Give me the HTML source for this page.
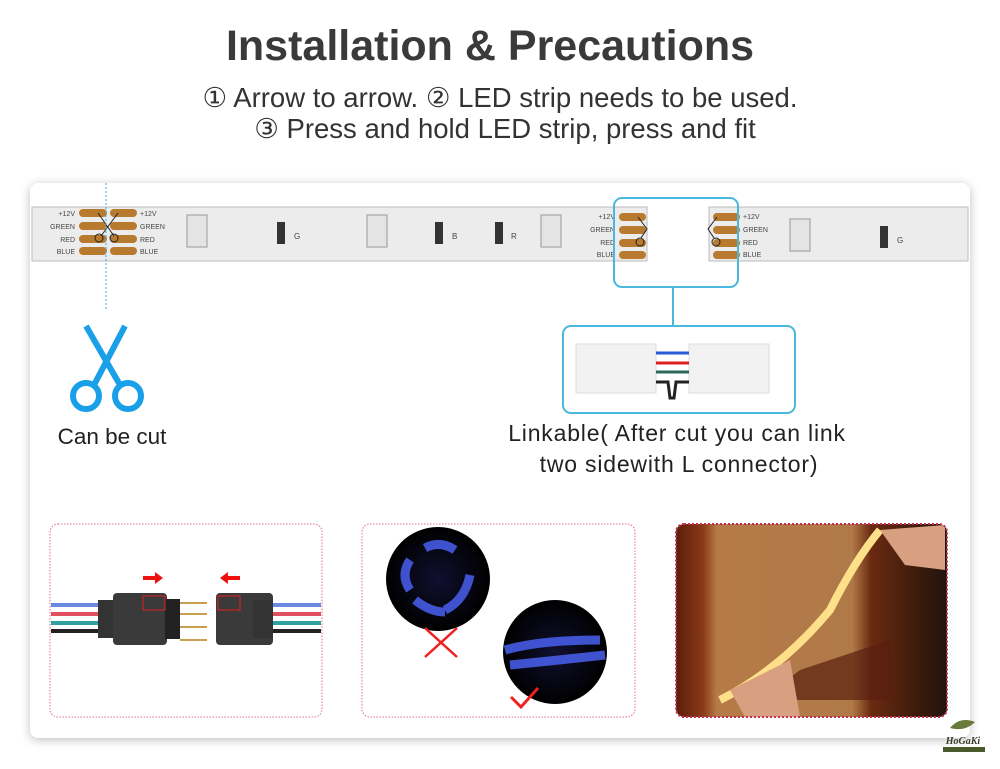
<!DOCTYPE html>
<html><head><meta charset="utf-8"><style>
html,body{margin:0;padding:0;background:#fff;width:1000px;height:769px;overflow:hidden;font-family:"Liberation Sans",sans-serif}
.t{position:absolute;left:0;width:1000px;text-align:center;color:#333}
.card{position:absolute;left:30px;top:183px;width:940px;height:555px;background:#fff;border-radius:8px;box-shadow:0 2px 10px rgba(0,0,0,.25)}
svg{position:absolute;left:0;top:0}
</style></head><body>
<div class="t" style="top:22px;font-size:43px;font-weight:bold;color:#3a3a3a;left:-10px">Installation &amp; Precautions</div>
<div class="t" style="top:82px;font-size:27.5px;color:#333">① Arrow to arrow. ② LED strip needs to be used.</div>
<div class="t" style="top:113px;font-size:27.5px;color:#333;left:5px">③ Press and hold LED strip, press and fit</div>
<div class="card"></div>
<svg width="1000" height="769" viewBox="0 0 1000 769" font-family="Liberation Sans, sans-serif">
<defs>
<linearGradient id="wood" x1="0" y1="0" x2="1" y2="0"><stop offset="0" stop-color="#5a1e0c"/><stop offset=".1" stop-color="#8a3a18"/><stop offset=".15" stop-color="#b57a48"/><stop offset=".65" stop-color="#b07a48"/><stop offset=".72" stop-color="#6a2a10"/><stop offset=".9" stop-color="#3a1a0c"/><stop offset="1" stop-color="#221410"/></linearGradient>
<radialGradient id="dk"><stop offset="0" stop-color="#101030"/><stop offset="1" stop-color="#000"/></radialGradient>
</defs>
<rect x="32" y="207" width="615" height="54" fill="#ececec" stroke="#bbb"/>
<rect x="709" y="207" width="259" height="54" fill="#ececec" stroke="#bbb"/>
<g font-size="7" fill="#444">
<text x="75" y="216" text-anchor="end">+12V</text><text x="75" y="229" text-anchor="end">GREEN</text><text x="75" y="242" text-anchor="end">RED</text><text x="75" y="254" text-anchor="end">BLUE</text>
<text x="140" y="216">+12V</text><text x="140" y="229">GREEN</text><text x="140" y="242">RED</text><text x="140" y="254">BLUE</text>
<text x="615" y="219" text-anchor="end">+12V</text><text x="615" y="232" text-anchor="end">GREEN</text><text x="615" y="245" text-anchor="end">RED</text><text x="615" y="257" text-anchor="end">BLUE</text>
<text x="743" y="219">+12V</text><text x="743" y="232">GREEN</text><text x="743" y="245">RED</text><text x="743" y="257">BLUE</text>
<text x="294" y="239" font-size="8">G</text><text x="452" y="239" font-size="8">B</text><text x="511" y="239" font-size="8">R</text><text x="897" y="243" font-size="8">G</text>
</g>
<g fill="#b87a2e">
<rect x="79" y="209" width="28" height="8" rx="4"/><rect x="79" y="222" width="28" height="8" rx="4"/><rect x="79" y="235" width="28" height="8" rx="4"/><rect x="79" y="247" width="28" height="8" rx="4"/>
<rect x="110" y="209" width="27" height="8" rx="4"/><rect x="110" y="222" width="27" height="8" rx="4"/><rect x="110" y="235" width="27" height="8" rx="4"/><rect x="110" y="247" width="27" height="8" rx="4"/>
<rect x="619" y="213" width="27" height="8" rx="4"/><rect x="619" y="226" width="27" height="8" rx="4"/><rect x="619" y="239" width="27" height="8" rx="4"/><rect x="619" y="251" width="27" height="8" rx="4"/>
<rect x="713" y="213" width="27" height="8" rx="4"/><rect x="713" y="226" width="27" height="8" rx="4"/><rect x="713" y="239" width="27" height="8" rx="4"/><rect x="713" y="251" width="27" height="8" rx="4"/>
</g>
<g stroke="#222" fill="none" stroke-width="1"><path d="M98 213 L114 236 M118 213 L101 236"/><circle cx="99" cy="238" r="4"/><circle cx="114" cy="238" r="4"/><circle cx="640" cy="242" r="4"/><circle cx="716" cy="242" r="4"/><path d="M638 217 L647 229 L641 238 M717 217 L708 229 L714 238"/></g>
<g fill="#e4e4e4" stroke="#999" stroke-width="1">
<rect x="187" y="215" width="20" height="32"/><rect x="367" y="215" width="20" height="32"/><rect x="541" y="215" width="20" height="32"/><rect x="790" y="219" width="20" height="32"/>
</g>
<g fill="#333"><rect x="277" y="222" width="8" height="22"/><rect x="435" y="222" width="8" height="22"/><rect x="495" y="222" width="8" height="22"/><rect x="880" y="226" width="8" height="22"/></g>
<line x1="106" y1="183" x2="106" y2="310" stroke="#5ab4e0" stroke-width="1.2" stroke-dasharray="2,2"/>
<rect x="614" y="198" width="124" height="89" rx="8" fill="none" stroke="#4ab8dc" stroke-width="2"/>
<line x1="673" y1="287" x2="673" y2="326" stroke="#4ab8dc" stroke-width="2"/>
<rect x="563" y="326" width="232" height="87" rx="8" fill="none" stroke="#4ab8dc" stroke-width="2"/>
<rect x="576" y="344" width="80" height="49" fill="#f2f2f2" stroke="#ddd"/><rect x="689" y="344" width="80" height="49" fill="#f2f2f2" stroke="#ddd"/>
<g stroke-width="3" fill="none"><line x1="656" y1="353" x2="689" y2="353" stroke="#2a5ad8"/><line x1="656" y1="363" x2="689" y2="363" stroke="#e02020"/><line x1="656" y1="372" x2="689" y2="372" stroke="#2a6a5a"/><path d="M656 382 L668 382 L670 398 L674 398 L676 382 L689 382" stroke="#222"/></g>
<g stroke="#1aa0e8" stroke-width="6" fill="none"><circle cx="86" cy="396" r="13"/><circle cx="128" cy="396" r="13"/><path d="M94 385 L125 326 M120 385 L86 326"/></g>
<text x="112" y="444" font-size="22.5" fill="#222" text-anchor="middle">Can be cut</text>
<text x="677" y="441" font-size="23" fill="#222" text-anchor="middle" letter-spacing="0.8">Linkable( After cut you can link</text>
<text x="679" y="472" font-size="23" fill="#222" text-anchor="middle" letter-spacing="0.8">two sidewith L connector)</text>
<rect x="50" y="524" width="272" height="193" rx="8" fill="#fff" stroke="#e07080" stroke-dasharray="1.5,1.5"/>
<rect x="362" y="524" width="273" height="193" rx="8" fill="#fff" stroke="#e07080" stroke-dasharray="1.5,1.5"/>
<rect x="676" y="524" width="271" height="193" rx="8" fill="url(#wood)"/>
<path d="M720 700 Q780 670 830 610 Q855 560 880 530" stroke="#ffe08a" stroke-width="8" fill="none"/>
<path d="M760 700 L800 670 L890 640 L895 700 Z" fill="#5a2010" opacity=".7"/>
<path d="M880 530 L945 525 L945 570 L905 565 Z" fill="#d8a080"/><path d="M730 690 L790 660 L800 717 L745 717 Z" fill="#d8a080"/>
<rect x="676" y="524" width="271" height="193" rx="8" fill="none" stroke="#c03050" stroke-width="2" stroke-dasharray="2,2"/>
<g><rect x="51" y="603" width="50" height="4" fill="#6a8ae0"/><rect x="51" y="612" width="50" height="4" fill="#e05060"/><rect x="51" y="621" width="50" height="4" fill="#30a0a0"/><rect x="51" y="629" width="50" height="4" fill="#222"/>
<rect x="272" y="603" width="49" height="4" fill="#6a8ae0"/><rect x="272" y="612" width="49" height="4" fill="#e05060"/><rect x="272" y="621" width="49" height="4" fill="#30a0a0"/><rect x="272" y="629" width="49" height="4" fill="#222"/>
<rect x="98" y="600" width="20" height="38" fill="#333"/><rect x="113" y="593" width="54" height="52" rx="4" fill="#3a3a3a"/><rect x="165" y="599" width="15" height="40" fill="#222"/>
<g stroke="#c8a050" stroke-width="2"><line x1="180" y1="603" x2="207" y2="603"/><line x1="180" y1="614" x2="207" y2="614"/><line x1="180" y1="627" x2="207" y2="627"/><line x1="180" y1="640" x2="207" y2="640"/></g>
<rect x="216" y="593" width="57" height="52" rx="4" fill="#3a3a3a"/><rect x="253" y="600" width="20" height="38" fill="#333"/>
<rect x="143" y="596" width="22" height="14" fill="none" stroke="#e02020"/><rect x="218" y="596" width="22" height="14" fill="none" stroke="#e02020"/>
<path d="M143 576 h12 v-4 l8 6 -8 6 v-4 h-12z" fill="#f01010"/><path d="M240 576 h-12 v-4 l-8 6 8 6 v-4 h12z" fill="#f01010"/></g>
<circle cx="438" cy="579" r="52" fill="url(#dk)"/>
<circle cx="555" cy="652" r="52" fill="url(#dk)"/>
<g stroke="#4a60f0" stroke-width="9" fill="none" opacity=".85"><path d="M410 560 Q400 575 410 590 M425 548 Q440 540 455 550 M470 575 Q465 600 445 610 M415 600 Q430 612 445 612"/><path d="M505 650 Q540 640 600 640 M510 665 Q560 660 605 655"/></g>
<path d="M425 628 L457 657 M457 628 L425 657" stroke="#f02020" stroke-width="2.5"/>
<path d="M511 697 L521 707 L538 688" stroke="#f02020" stroke-width="3" fill="none"/>
<path d="M950 728 Q960 716 975 722 Q965 732 950 728Z" fill="#6a7a3a"/>
<text x="963" y="744" font-size="10" font-style="italic" font-weight="bold" fill="#3a3a2a" text-anchor="middle" font-family="Liberation Serif, serif">HoGaKi</text>
<rect x="943" y="747" width="42" height="5" fill="#4a5a2a"/>
</svg>
</body></html>
